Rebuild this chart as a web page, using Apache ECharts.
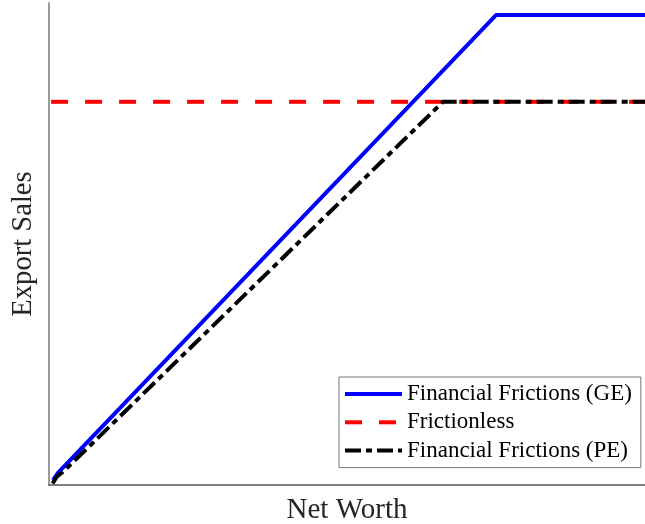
<!DOCTYPE html>
<html>
<head>
<meta charset="utf-8">
<script src="https://cdn.jsdelivr.net/npm/echarts@6/dist/echarts.min.js"></script>
<style>html,body{margin:0;padding:0;background:#fff;}#c{width:645px;height:524px;}</style>
</head>
<body>
<div id="c"></div>
<script>
const seriesNames = ['Financial Frictions (GE)', 'Frictionless', 'Financial Frictions (PE)'];
const geX = [0.67, 1.5, 75.0, 100];
const geY = [1.0, 2.5, 97.5, 97.5];
const flX = [0.35, 100];
const flY = [79.5, 79.5];
const peX = [0.6, 1.3, 2.5, 66.1, 100];
const peY = [0.3, 1.7, 2.9, 79.5, 79.5];
const xName = 'Net Worth';
const yName = 'Export Sales';

const zip = (xs, ys) => xs.map((x, i) => [x, ys[i]]);
const font = '"Liberation Serif", "DejaVu Serif", serif';

const chart = echarts.init(document.getElementById('c'));
chart.setOption({
  animation: false,
  grid: { left: 49, right: 0, top: 3, bottom: 39, outerBoundsMode: 'none', containLabel: false },
  xAxis: {
    type: 'value', min: 0, max: 100,
    name: xName, nameLocation: 'middle', nameGap: 11,
    nameTextStyle: { fontFamily: font, fontSize: 29, color: '#262626' },
    axisLine: { show: true, lineStyle: { color: '#555', width: 1.5 } },
    axisTick: { show: false }, axisLabel: { show: false }, splitLine: { show: false }
  },
  yAxis: {
    type: 'value', min: 0, max: 100,
    name: yName, nameLocation: 'middle', nameGap: 11,
    nameTextStyle: { fontFamily: font, fontSize: 28.6, color: '#262626' },
    axisLine: { show: true, lineStyle: { color: '#9a9a9a', width: 2 } },
    axisTick: { show: false }, axisLabel: { show: false }, splitLine: { show: false }
  },
  legend: {
    orient: 'vertical', left: 339, top: 377,
    padding: [5.5, 9, 5.5, 4],
    itemWidth: 57, itemHeight: 23, itemGap: 5.3,
    backgroundColor: '#fff', borderColor: '#777', borderWidth: 1,
    itemStyle: { opacity: 0 },
    lineStyle: { width: 4 },
    textStyle: { fontFamily: font, fontSize: 23, color: '#000' },
    data: seriesNames
  },
  series: [
    { name: seriesNames[0], type: 'line', data: zip(geX, geY), symbol: 'none',
      lineStyle: { color: '#0000ff', width: 4 }, itemStyle: { color: '#0000ff' }, z: 2 },
    { name: seriesNames[1], type: 'line', data: zip(flX, flY), symbol: 'none',
      lineStyle: { color: '#ff0000', width: 4, type: [17, 17] }, itemStyle: { color: '#ff0000' }, z: 3 },
    { name: seriesNames[2], type: 'line', data: zip(peX, peY), symbol: 'none',
      lineStyle: { color: '#000000', width: 4, type: [16, 5, 6, 5] }, itemStyle: { color: '#000000' }, z: 4 }
  ]
});
</script>
</body>
</html>
